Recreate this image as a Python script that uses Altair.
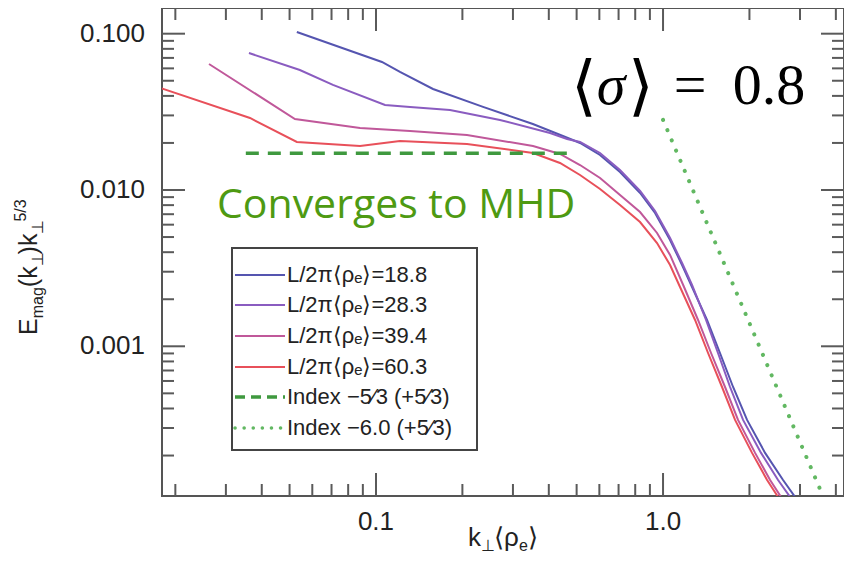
import altair as alt
import pandas as pd

SANS = "Liberation Sans"
SERIF = "Liberation Serif"
TICK = "#5a5a5a"

# ---------------- data ----------------
series_names = ["L/2π⟨ρₑ⟩=18.8", "L/2π⟨ρₑ⟩=28.3", "L/2π⟨ρₑ⟩=39.4", "L/2π⟨ρₑ⟩=60.3"]
series_colors = ["#5555b0", "#8a5cc0", "#c0589a", "#e8505a"]

k_188 = [0.0530, 0.1049, 0.1212, 0.158, 0.236, 0.352, 0.448, 0.514, 0.603, 0.708, 0.832, 0.938,
         1.058, 1.165, 1.262, 1.423, 1.579, 1.754, 1.962, 2.267, 2.619, 2.884, 3.00]
E_188 = [0.1025, 0.0659, 0.0569, 0.0443, 0.0340, 0.02644, 0.02215, 0.01998, 0.01675, 0.01304, 0.00957,
         0.00713, 0.00479, 0.00331, 0.002395, 0.001473, 0.000906, 0.000549, 0.000338, 0.000208,
         0.0001395, 0.0001086, 0.0000965]

k_283 = [0.0361, 0.0543, 0.0708, 0.1075, 0.1314, 0.1811, 0.2704, 0.404, 0.463, 0.514, 0.603, 0.708,
         0.832, 0.938, 1.058, 1.165, 1.262, 1.412, 1.554, 1.712, 1.900, 2.195, 2.516, 2.771, 2.884]
E_283 = [0.0752, 0.0586, 0.0470, 0.0350, 0.0340, 0.0325, 0.02805, 0.02316, 0.0212, 0.02028, 0.01725,
         0.01343, 0.00985, 0.00734, 0.00493, 0.00341, 0.002467, 0.001473, 0.000906, 0.000549,
         0.000338, 0.000208, 0.0001395, 0.0001086, 0.0000965]

k_394 = [0.0262, 0.0522, 0.0880, 0.1314, 0.2075, 0.3524, 0.4376, 0.5138, 0.6034, 0.7082, 0.8316,
         0.953, 1.058, 1.1835, 1.3243, 1.4697, 1.6444, 1.8248, 2.0922, 2.360, 2.577, 2.683]
E_394 = [0.0640, 0.02846, 0.02492, 0.02384, 0.02248, 0.01912, 0.0170, 0.01445, 0.01193, 0.00929,
         0.00723, 0.00531, 0.00384, 0.002395, 0.001473, 0.000906, 0.000549, 0.000338, 0.000208,
         0.0001395, 0.0001086, 0.0000965]

k_603 = [0.0178, 0.0364, 0.0530, 0.0880, 0.1212, 0.2075, 0.3524, 0.4376, 0.5138, 0.6034, 0.7082,
         0.8316, 0.953, 1.058, 1.146, 1.293, 1.435, 1.605, 1.782, 2.042, 2.304, 2.516, 2.619]
E_603 = [0.0449, 0.02889, 0.02028, 0.01912, 0.02058, 0.01969, 0.01725, 0.01489, 0.01247, 0.01015,
         0.00802, 0.00624, 0.00458, 0.00331, 0.002395, 0.001473, 0.000906, 0.000549, 0.000338,
         0.000208, 0.0001395, 0.0001086, 0.0000965]

k_values = [k_188, k_283, k_394, k_603]
E_values = [E_188, E_283, E_394, E_603]

ref_names = ["Index −5⁄3 (+5⁄3)", "Index −6.0 (+5⁄3)"]
ref_colors = ["#3f993f", "#62b862"]
k_mhd = [0.0352, 0.467]
E_mhd = [0.01717, 0.01717]
k_steep = [1.0, 3.55]
E_steep = [0.0281, 0.000118]

x_major = [0.1, 1.0]
x_labels = ["0.1", "1.0"]
x_minor = [0.02, 0.03, 0.04, 0.05, 0.06, 0.07, 0.08, 0.09,
           0.2, 0.3, 0.4, 0.5, 0.6, 0.7, 0.8, 0.9, 2.0, 3.0, 4.0]
y_major = [0.001, 0.01, 0.1]
y_labels = ["0.001", "0.010", "0.100"]
y_minor = [0.0002, 0.0003, 0.0004, 0.0005, 0.0006, 0.0007, 0.0008, 0.0009,
           0.002, 0.003, 0.004, 0.005, 0.006, 0.007, 0.008, 0.009,
           0.02, 0.03, 0.04, 0.05, 0.06, 0.07, 0.08, 0.09]
x_domain = [0.01797, 4.27]
y_domain = [0.0001102, 0.146]

annotation = "Converges to MHD"
sigma_parts = ["⟨", "σ", "⟩", "=", "0.8"]

# ---------------- layout ----------------
W, H = 682, 488
xs = alt.Scale(type="log", domain=x_domain, nice=False)
ys = alt.Scale(type="log", domain=y_domain, nice=False)

rows = []
for name, ks, Es in zip(series_names, k_values, E_values):
    for i, (k, E) in enumerate(zip(ks, Es)):
        rows.append({"k": k, "E": E, "series": name, "i": i})
df = pd.DataFrame(rows)

lines = alt.Chart(df).mark_line(clip=True, strokeWidth=2).encode(
    x=alt.X("k:Q", scale=xs, axis=None),
    y=alt.Y("E:Q", scale=ys, axis=None),
    color=alt.Color("series:N", scale=alt.Scale(domain=series_names, range=series_colors), legend=None),
    order="i:Q",
)

mhd = alt.Chart(pd.DataFrame({"k": k_mhd, "E": E_mhd})).mark_line(
    clip=True, color=ref_colors[0], strokeWidth=3.5, strokeDash=[13, 9]
).encode(x=alt.X("k:Q", scale=xs, axis=None), y=alt.Y("E:Q", scale=ys, axis=None))

steep = alt.Chart(pd.DataFrame({"k": k_steep, "E": E_steep})).mark_line(
    clip=True, color=ref_colors[1], strokeWidth=4, strokeDash=[0.1, 11], strokeCap="round"
).encode(x=alt.X("k:Q", scale=xs, axis=None), y=alt.Y("E:Q", scale=ys, axis=None))

# tick labels, placed through the scales
x_lab = alt.Chart(pd.DataFrame({"v": x_major, "t": x_labels})).mark_text(
    font=SANS, fontSize=26, color="#222", align="center", baseline="top"
).encode(x=alt.X("v:Q", scale=xs, axis=None), y=alt.value(H + 13), text="t:N")
y_lab = alt.Chart(pd.DataFrame({"v": y_major, "t": y_labels})).mark_text(
    font=SANS, fontSize=26, color="#222", align="right", baseline="middle"
).encode(y=alt.Y("v:Q", scale=ys, axis=None), x=alt.value(-17), text="t:N")


def ticks(vals, ch, side, length):
    m = alt.Chart(pd.DataFrame({"v": vals})).mark_rule(color=TICK, strokeWidth=2)
    if ch == "x":
        y0 = H if side == "bottom" else 0
        y1 = H - length if side == "bottom" else length
        return m.encode(x=alt.X("v:Q", scale=xs, axis=None), y=alt.value(y0), y2=alt.value(y1))
    x0 = 0 if side == "left" else W
    x1 = length if side == "left" else W - length
    return m.encode(y=alt.Y("v:Q", scale=ys, axis=None), x=alt.value(x0), x2=alt.value(x1))


tick_layers = []
for side in ["bottom", "top"]:
    tick_layers.append(ticks(x_major, "x", side, 23))
    tick_layers.append(ticks(x_minor, "x", side, 12))
for side in ["left", "right"]:
    tick_layers.append(ticks(y_major, "y", side, 23))
    tick_layers.append(ticks(y_minor, "y", side, 12))


def txt(s, x, y, size, color="#222", font=SANS, angle=0, align="left",
        baseline="alphabetic", style="normal"):
    return alt.Chart(pd.DataFrame({"t": [s]})).mark_text(
        text=s, font=font, fontSize=size, color=color, angle=angle, align=align,
        baseline=baseline, fontStyle=style
    ).encode(x=alt.value(x), y=alt.value(y))


texts = []
# y title: E_mag(k_perp)k_perp^{5/3}, rotated
y_pieces = [("E", 25, 0, 16.7), ("mag", 16, 6, 31.1), ("(k", 25, 0, 20.8), ("⊥", 16, 6, 12),
            (")k", 25, 0, 20.8), ("⊥", 16, 6, 12), ("5/3", 16, -11, 22.2)]
yy = 327
for s, size, shift, w in y_pieces:
    texts.append(txt(s, -125 + shift, yy, size, angle=270))
    yy -= w
# x title: k_perp <rho_e>
x_pieces = [("k", 26, 0, 13), ("⊥", 16, 5, 13), ("⟨", 26, 0, 10), ("ρ", 26, 0, 15),
            ("e", 16, 5, 9), ("⟩", 26, 0, 10)]
xx = 306
for s, size, shift, w in x_pieces:
    texts.append(txt(s, xx, 538 + shift, size))
    xx += w

# <sigma> = 0.8
sig_x = [422, 449, 479, 528, 607]
sig_y = [100, 96, 100, 96, 96]
sig_size = [66, 58, 66, 58, 58]
sig_style = ["normal", "italic", "normal", "normal", "normal"]
for s, x, y, sz, st in zip(sigma_parts, sig_x, sig_y, sig_size, sig_style):
    texts.append(txt(s, x, y, sz, color="#000", font=SERIF, align="center", style=st))

texts.append(txt(annotation, 55, 210, 41, color="#4e9a12", font="Open Sans"))

# legend
legend_layers = [
    alt.Chart(pd.DataFrame({"a": [0]})).mark_rect(fill="white", stroke="#444", strokeWidth=2).encode(
        x=alt.value(70), x2=alt.value(315), y=alt.value(240), y2=alt.value(442))
]
leg_names = series_names + ref_names
leg_colors = series_colors + ref_colors
leg_dash = [None, None, None, None, [10, 6], [0.1, 9]]
leg_width = [2, 2, 2, 2, 3.5, 3.5]
leg_y = [267, 297, 328, 359, 389, 420]
for name, c, d, w, ry in zip(leg_names, leg_colors, leg_dash, leg_width, leg_y):
    kw = dict(color=c, strokeWidth=w)
    if d is not None:
        kw["strokeDash"] = d
        kw["strokeCap"] = "round" if d[0] < 1 else "butt"
    legend_layers.append(
        alt.Chart(pd.DataFrame({"a": [0]})).mark_rule(**kw).encode(
            x=alt.value(73), x2=alt.value(123), y=alt.value(ry)))
    legend_layers.append(txt(name, 125, ry, 22, baseline="middle"))

chart = alt.layer(lines, mhd, steep, *tick_layers, x_lab, y_lab, *texts, *legend_layers).properties(
    width=W, height=H,
    padding={"left": 154, "top": 0, "right": 0, "bottom": 60},
    autosize=alt.AutoSizeParams(type="none"),
).configure_view(stroke="#555", strokeWidth=2)

chart.save("out.html", embed_options={"renderer": "svg", "actions": False})
